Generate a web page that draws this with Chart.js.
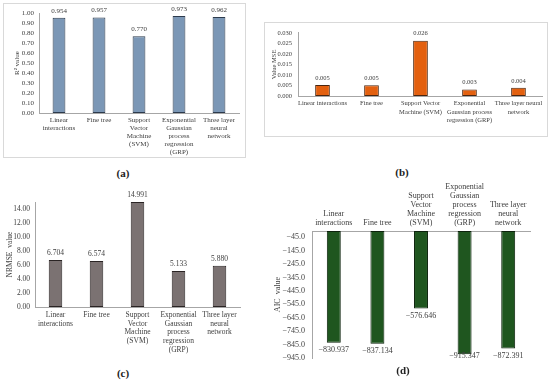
<!DOCTYPE html>
<html><head><meta charset="utf-8">
<script src="https://cdn.jsdelivr.net/npm/chart.js@4.4.1/dist/chart.umd.min.js"></script>
<style>
html,body{margin:0;padding:0;background:#fff;}
body{width:550px;height:383px;position:relative;overflow:hidden;font-family:'Liberation Serif','Times New Roman',serif;}
canvas{position:absolute;}
.box{position:absolute;border:1px solid #d9d9d9;box-sizing:border-box;}
.lbl{position:absolute;font-weight:bold;font-size:11px;color:#222;transform:translate(-50%,-50%);white-space:nowrap;}
</style></head><body>
<div class="box" style="left:3px;top:3px;width:243px;height:155px"></div>
<div class="box" style="left:264px;top:22px;width:284px;height:115px"></div>
<canvas id="ca" width="240" height="152" style="left:4px;top:4px"></canvas>
<canvas id="cb" width="281" height="112" style="left:265px;top:23px"></canvas>
<canvas id="cc" width="260" height="178" style="left:0px;top:185px"></canvas>
<canvas id="cd" width="281" height="190" style="left:266px;top:180px"></canvas>
<div class="lbl" style="left:123px;top:173px">(a)</div>
<div class="lbl" style="left:402px;top:172px">(b)</div>
<div class="lbl" style="left:123px;top:373px">(c)</div>
<div class="lbl" style="left:403px;top:370px">(d)</div>
<script>
// ---- data ----
const categoriesStacked = [["Linear","interactions"],["Fine tree"],["Support","Vector","Machine","(SVM)"],["Exponential","Gaussian","process","regression","(GRP)"],["Three layer","neural","network"]];
const categoriesWide = [["Linear interactions"],["Fine tree"],["Support Vector","Machine (SVM)"],["Exponential","Gaussian process","regression (GRP)"],["Three layer neural","network"]];
const r2Values = [0.954, 0.957, 0.770, 0.973, 0.962];
const mseValues = [0.0052, 0.0051, 0.0263, 0.0031, 0.0039];
const nrmseValues = [6.704, 6.574, 14.991, 5.133, 5.880];
const aicValues = [-830.937, -837.134, -576.646, -915.347, -872.391];
const r2Ticks = [0, 0.1, 0.2, 0.3, 0.4, 0.5, 0.6, 0.7, 0.8, 0.9, 1.0];
const mseTicks = [0, 0.005, 0.010, 0.015, 0.020, 0.025, 0.030];
const nrmseTicks = [0, 2, 4, 6, 8, 10, 12, 14];
const aicTicks = [-945, -845, -745, -645, -545, -445, -345, -245, -145, -45];

const FAM = "'Liberation Serif','Times New Roman',serif";
const TXT = '#404040';
const AXIS = '#a6a6a6';

function makeChart(id, c) {
  const valuePlugin = {
    id: 'valueLabels_' + id,
    afterDatasetsDraw(chart) {
      const ctx = chart.ctx;
      const meta = chart.getDatasetMeta(0);
      const data = chart.data.datasets[0].data;
      ctx.save();
      ctx.font = c.size + 'px ' + FAM;
      ctx.fillStyle = TXT;
      ctx.textAlign = 'center';
      ctx.textBaseline = 'middle';
      meta.data.forEach((bar, i) => {
        const v = data[i];
        let y = v >= 0 ? bar.y - c.valOffset : bar.y + c.valOffset;
        if (v < 0) y = Math.min(y, chart.chartArea.bottom - 2);
        ctx.fillText(c.valFmt(v), bar.x, y);
      });
      ctx.restore();
    }
  };
  return new Chart(document.getElementById(id), {
    type: 'bar',
    data: {
      labels: c.labels,
      datasets: [{
        data: c.values,
        backgroundColor: c.fill,
        borderColor: c.edge,
        borderWidth: 1,
        borderSkipped: false,
        barPercentage: c.barPct,
        categoryPercentage: 1
      }]
    },
    options: {
      responsive: false,
      animation: false,
      devicePixelRatio: 1,
      layout: { padding: c.pad },
      plugins: { legend: { display: false }, tooltip: { enabled: false } },
      scales: {
        x: {
          position: c.xPos || 'bottom',
          grid: { display: false, drawTicks: false },
          border: { display: true, color: AXIS, width: 1 },
          ticks: {
            autoSkip: false, maxRotation: 0, minRotation: 0,
            padding: c.xPad, color: TXT,
            font: { family: FAM, size: c.size, lineHeight: c.lh }
          },
          afterFit(s) { s.height = c.xHeight; }
        },
        y: {
          min: c.min, max: c.max,
          grid: { display: false, drawTicks: false },
          border: { display: true, color: AXIS, width: 1 },
          afterBuildTicks(s) { s.ticks = c.ticks.map(v => ({ value: v })); },
          ticks: {
            autoSkip: false, padding: c.yPad, color: TXT,
            font: { family: FAM, size: c.size },
            callback: (v) => c.tickFmt(v)
          },
          title: {
            display: true, text: c.title, color: TXT,
            font: { family: FAM, size: c.size, lineHeight: 1.2 },
            padding: { top: c.titlePad, bottom: 0 }
          },
          afterFit(s) { s.width = c.yWidth; }
        }
      }
    },
    plugins: [valuePlugin]
  });
}

const minus = (v, d) => (v < 0 ? '\u2212' : '') + Math.abs(v).toFixed(d);

makeChart('ca', {
  labels: categoriesStacked, values: r2Values, ticks: r2Ticks, min: 0, max: 1,
  fill: '#7b97b6', edge: '#2d3b4d', barPct: 0.32,
  size: 7, lh: 1.13, pad: { top: 9, right: 5, left: 0, bottom: 0 },
  yWidth: 35, xHeight: 43, xPad: 3.5, yPad: 5, titlePad: 8.5, title: 'R\u00b2 value',
  tickFmt: v => v.toFixed(2), valFmt: v => v.toFixed(3), valOffset: 7
});
makeChart('cb', {
  labels: categoriesWide, values: mseValues, ticks: mseTicks, min: 0, max: 0.03,
  fill: '#e3600f', edge: '#4a2610', barPct: 0.30,
  size: 6.5, lh: 1.3, pad: { top: 6, right: 2, left: 0, bottom: 0 },
  yWidth: 33, xHeight: 39, xPad: 3.5, yPad: 6, titlePad: 5, title: 'Value MSE',
  tickFmt: v => v.toFixed(3), valFmt: v => v.toFixed(3), valOffset: 7
});
makeChart('cc', {
  labels: categoriesStacked, values: nrmseValues, ticks: nrmseTicks, min: 0, max: 15,
  fill: '#7b7272', edge: '#2a2424', barPct: 0.33,
  size: 7.5, lh: 1.17, pad: { top: 17, right: 20, left: 0, bottom: 0 },
  yWidth: 35, xHeight: 56, xPad: 3.5, yPad: 5, titlePad: 5.5, title: 'NRMSE  value',
  tickFmt: v => v.toFixed(2), valFmt: v => v.toFixed(3), valOffset: 7
});
makeChart('cd', {
  labels: categoriesStacked, values: aicValues, ticks: aicTicks, min: -945, max: 0,
  fill: '#1f561f', edge: '#0c220c', barPct: 0.32, xPos: 'top',
  size: 8, lh: 1.12, pad: { top: 0, right: 17, left: 0, bottom: 8 },
  yWidth: 46, xHeight: 51, xPad: 4, yPad: 7, titlePad: 7, title: 'AIC  value',
  tickFmt: v => minus(v, 1), valFmt: v => minus(v, 3), valOffset: 7
});
</script>
</body></html>
